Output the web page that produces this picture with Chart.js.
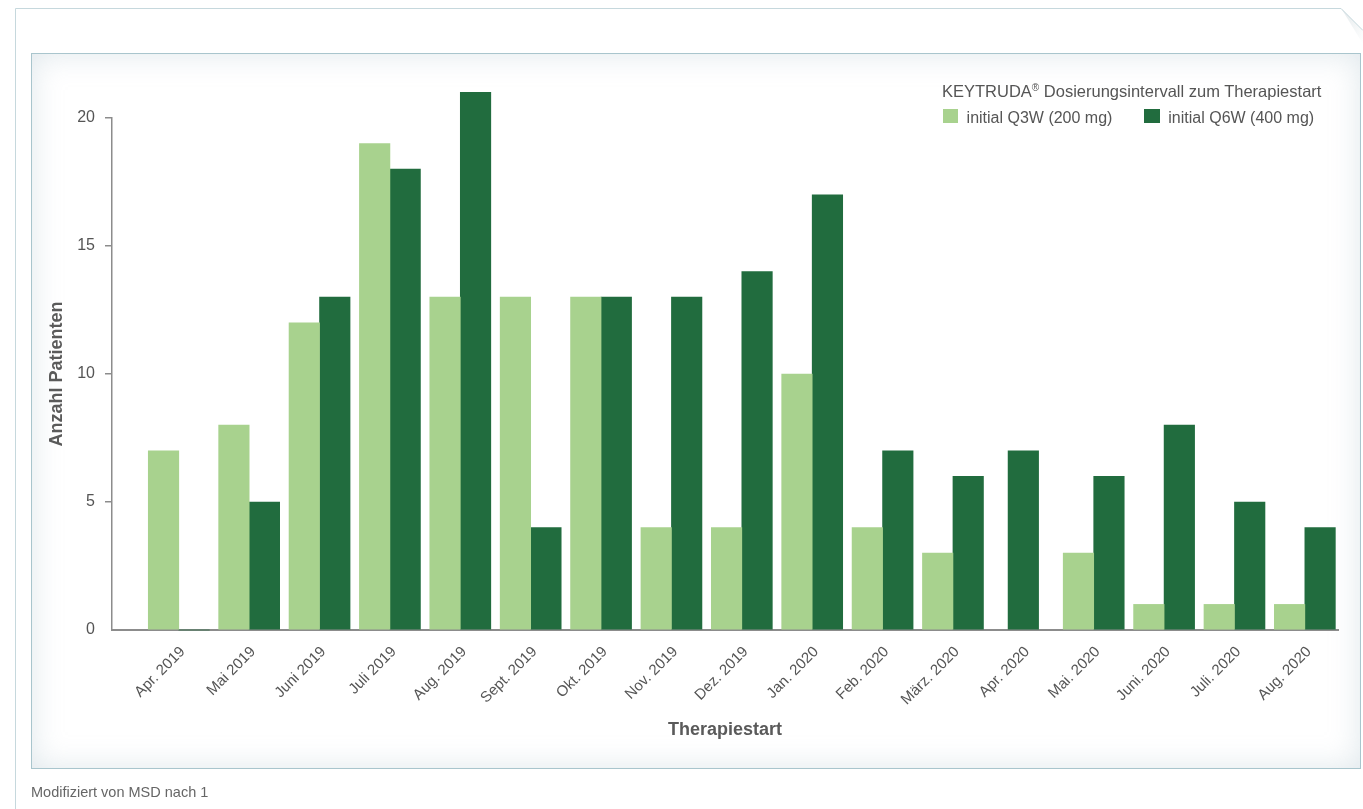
<!DOCTYPE html>
<html>
<head>
<meta charset="utf-8">
<script src="https://cdn.jsdelivr.net/npm/chart.js@4.4.1/dist/chart.umd.min.js"></script>
<style>
  html, body { margin:0; padding:0; background:#fff; width:1363px; height:809px; overflow:hidden;
    font-family:"Liberation Sans", Arial, sans-serif; }
  #frame { position:absolute; left:0; top:0; }
  #panel { position:absolute; left:31px; top:53px; width:1328px; height:714px;
    border:1px solid #a9c5cd; background:#fff;
    box-shadow: inset 0 0 30px rgba(170,192,202,0.38); }
  #wrap { position:absolute; left:0; top:0; width:1363px; height:809px; }
  #legend { position:absolute; left:942px; top:81px; color:#555; white-space:nowrap; }
  #legend .ttl { font-size:16.5px; line-height:20px; }
  #legend .ttl sup { font-size:10px; line-height:0; vertical-align:6px; }
  #legend .row { margin-top:6.5px; height:20px; font-size:16px; line-height:20px; }
  #legend .item { display:inline-block; margin-right:31.3px; }
  #legend .sw { display:inline-block; width:15.5px; height:14px; margin-right:8.4px; vertical-align:baseline; margin-left:0.7px; }
  #foot { position:absolute; left:31px; top:782px; color:#666; font-size:14.5px; line-height:20px; white-space:nowrap; }
</style>
</head>
<body>
<svg id="frame" width="1363" height="809">
  <defs>
    <linearGradient id="fold" x1="0" y1="0" x2="1" y2="1">
      <stop offset="0" stop-color="#e3e9eb"/>
      <stop offset="1" stop-color="#ffffff"/>
    </linearGradient>
  </defs>
  <path d="M1341,8 L1363,30 L1363,44 Z" fill="url(#fold)"/>
  <path d="M15.5,809 L15.5,8.5 L1341,8.5 L1363,30.5" fill="none" stroke="#c6d8dd" stroke-width="1"/>
</svg>
<div id="panel"></div>
<div id="wrap"><canvas id="c"></canvas></div>
<div id="legend"></div>
<div id="foot">Modifiziert von MSD nach 1</div>
<script>
const categories = ['Apr. 2019','Mai 2019','Juni 2019','Juli 2019','Aug. 2019','Sept. 2019','Okt. 2019','Nov. 2019','Dez. 2019','Jan. 2020','Feb. 2020','März. 2020','Apr. 2020','Mai. 2020','Juni. 2020','Juli. 2020','Aug. 2020'];
const q3wValues = [7, 8, 12, 19, 13, 13, 13, 4, 4, 10, 4, 3, null, 3, 1, 1, 1];
const q6wValues = [0, 5, 13, 18, 21, 4, 13, 13, 14, 17, 7, 6, 7, 6, 8, 5, 4];
const yTickValues = [0, 5, 10, 15, 20];
const seriesLabels = ['initial Q3W (200 mg)', 'initial Q6W (400 mg)'];
const legendTitle = 'KEYTRUDA<sup>®</sup> Dosierungsintervall zum Therapiestart';

const FONT = '"Liberation Sans", Arial, sans-serif';
Chart.defaults.font.family = FONT;
Chart.defaults.color = '#555';

const chart = new Chart(document.getElementById('c'), {
  type: 'bar',
  data: {
    labels: categories,
    datasets: [
      { label: seriesLabels[0], data: q3wValues, backgroundColor: '#a8d28e' },
      { label: seriesLabels[1], data: q6wValues, backgroundColor: '#216c3e' }
    ]
  },
  options: {
    responsive: true,
    maintainAspectRatio: false,
    animation: false,
    devicePixelRatio: 1,
    layout: { padding: { left: 40, right: 25, top: 118, bottom: 61 } },
    datasets: { bar: { barThickness: 30.5, skipNull: true, clip: false, borderWidth: 0 } },
    plugins: { legend: { display: false }, tooltip: { enabled: false }, title: { display: false } },
    scales: {
      x: {
        type: 'category',
        offset: true,
        grid: { display: false },
        border: { display: true, color: '#8c8c8c', width: 2 },
        ticks: { autoSkip: false, maxRotation: 45, minRotation: 45, padding: 5, labelOffset: 4, color: '#555', font: { size: 15 } },
        title: { display: true, text: 'Therapiestart', color: '#5a5a5a', font: { size: 18, weight: 'bold' }, padding: { top: 0, bottom: 7 } },
        afterFit: (s) => { s.height = 118; },
        afterBuildTicks: (s) => { s._startValue = -0.949; s._valueRange = 17.42; }
      },
      y: {
        min: 0,
        max: 20,
        grid: {
          drawOnChartArea: false, drawTicks: true, tickLength: 7, lineWidth: 1.5, tickWidth: 1.5,
          tickColor: (ctx) => (ctx.tick && ctx.tick.value === 0) ? 'rgba(0,0,0,0)' : '#8c8c8c'
        },
        border: { display: true, color: '#8c8c8c', width: 1.5 },
        ticks: { padding: 10, color: '#555', font: { size: 16 } },
        afterBuildTicks: (s) => { s.ticks = yTickValues.map(v => ({ value: v })); },
        title: { display: true, text: 'Anzahl Patienten', color: '#5a5a5a', font: { size: 18, weight: 'bold' }, padding: { top: 6, bottom: 0 } },
        afterFit: (s) => { s.width = 72; }
      }
    }
  }
});

// HTML legend built from the chart's datasets
const lg = document.getElementById('legend');
let html = '<div class="ttl">' + legendTitle + '</div><div class="row">';
chart.data.datasets.forEach(ds => {
  html += '<span class="item"><span class="sw" style="background:' + ds.backgroundColor + '"></span>' + ds.label + '</span>';
});
html += '</div>';
lg.innerHTML = html;
</script>
</body>
</html>
